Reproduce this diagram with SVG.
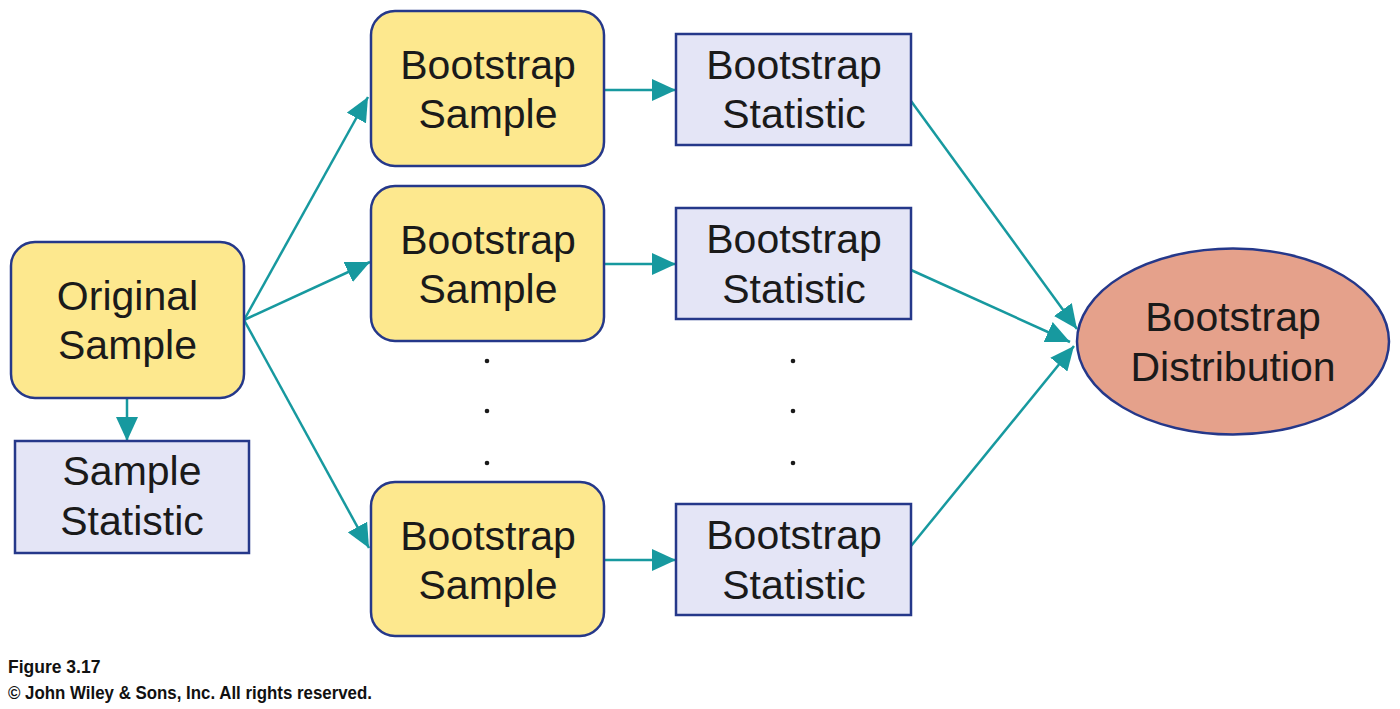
<svg xmlns="http://www.w3.org/2000/svg" width="1400" height="709" viewBox="0 0 1400 709">
<defs>
<style>
.ys{fill:#FDE88E;stroke:#25388A;stroke-width:2.5}
.st{fill:#E4E5F6;stroke:#25388A;stroke-width:2.5}
.el{fill:#E5A18B;stroke:#25388A;stroke-width:2.5}
.t{font-family:"Liberation Sans",Arial,sans-serif;font-size:41px;fill:#1a1a1a;text-anchor:middle}
.c{stroke:#17999F;stroke-width:2.5;fill:none;marker-end:url(#ah)}
.dot{fill:#1a1a1a}
.f{font-family:"Liberation Sans",Arial,sans-serif;font-size:17.5px;font-weight:bold;fill:#111}
</style>
<marker id="ah" markerUnits="userSpaceOnUse" markerWidth="26" markerHeight="22" refX="24" refY="11" orient="auto">
<path d="M0,0 L24,11 L0,22 Z" fill="#17999F"/>
</marker>
</defs>
<rect width="1400" height="709" fill="#fff"/>
<g id="connectors">
<line class="c" x1="127" y1="398" x2="127" y2="441"/>
<line class="c" x1="244" y1="320" x2="368" y2="97"/>
<line class="c" x1="244" y1="320" x2="370" y2="262"/>
<line class="c" x1="244" y1="320" x2="369" y2="548"/>
<line class="c" x1="604" y1="90" x2="676" y2="90"/>
<line class="c" x1="604" y1="264" x2="676" y2="264"/>
<line class="c" x1="604" y1="560" x2="676" y2="560"/>
<line class="c" x1="911" y1="101" x2="1077" y2="329"/>
<line class="c" x1="911" y1="270" x2="1070" y2="342"/>
<line class="c" x1="911" y1="546" x2="1074" y2="346"/>
</g>
<g id="original">
<rect class="ys" x="11" y="242" width="233" height="156" rx="24"/>
<text class="t" x="127.5" y="310">Original</text>
<text class="t" x="127.5" y="359">Sample</text>
</g>
<g id="sample-statistic">
<rect class="st" x="15" y="441" width="234" height="112"/>
<text class="t" x="132" y="485">Sample</text>
<text class="t" x="132" y="535">Statistic</text>
</g>
<g id="bs1">
<rect class="ys" x="371" y="11" width="233" height="155" rx="24"/>
<text class="t" x="488" y="79">Bootstrap</text>
<text class="t" x="488" y="128">Sample</text>
</g>
<g id="bs2">
<rect class="ys" x="371" y="186" width="233" height="155" rx="24"/>
<text class="t" x="488" y="254">Bootstrap</text>
<text class="t" x="488" y="303">Sample</text>
</g>
<g id="bs3">
<rect class="ys" x="371" y="482" width="233" height="154" rx="24"/>
<text class="t" x="488" y="550">Bootstrap</text>
<text class="t" x="488" y="599">Sample</text>
</g>
<g id="stat1">
<rect class="st" x="676" y="34" width="235" height="111"/>
<text class="t" x="794" y="79">Bootstrap</text>
<text class="t" x="794" y="128">Statistic</text>
</g>
<g id="stat2">
<rect class="st" x="676" y="208" width="235" height="111"/>
<text class="t" x="794" y="253">Bootstrap</text>
<text class="t" x="794" y="303">Statistic</text>
</g>
<g id="stat3">
<rect class="st" x="676" y="504" width="235" height="111"/>
<text class="t" x="794" y="549">Bootstrap</text>
<text class="t" x="794" y="599">Statistic</text>
</g>
<g id="distribution">
<ellipse class="el" cx="1233" cy="341.5" rx="156" ry="93"/>
<text class="t" x="1233" y="331">Bootstrap</text>
<text class="t" x="1233" y="381">Distribution</text>
</g>
<g id="dots">
<circle class="dot" cx="487" cy="361" r="2.3"/>
<circle class="dot" cx="487" cy="411" r="2.3"/>
<circle class="dot" cx="487" cy="463" r="2.3"/>
<circle class="dot" cx="793" cy="361" r="2.3"/>
<circle class="dot" cx="793" cy="411" r="2.3"/>
<circle class="dot" cx="793" cy="463" r="2.3"/>
</g>
<g id="caption">
<text class="f" x="8" y="673">Figure 3.17</text>
<text class="f" x="8" y="699" textLength="364" lengthAdjust="spacingAndGlyphs">© John Wiley &amp; Sons, Inc. All rights reserved.</text>
</g>
</svg>
